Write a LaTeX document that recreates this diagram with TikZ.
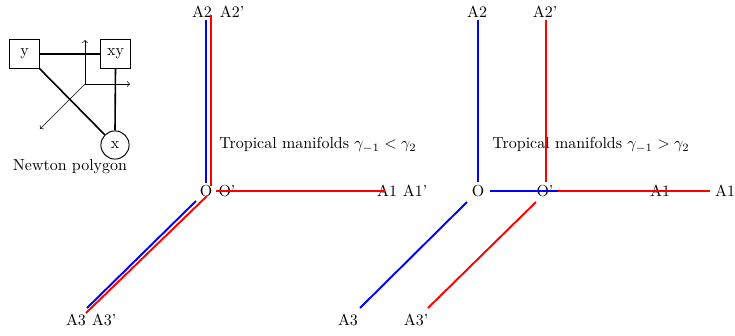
\documentclass[tikz,border=0pt]{standalone}
\begin{document}
\begin{tikzpicture}[x=0.022cm,y=-0.022cm,
  lbl/.style={inner sep=1pt},
  bl/.style={blue,line width=1.2pt},
  rd/.style={red,line width=1.2pt},
  pedge/.style={line width=1pt},
  sq/.style={draw,line width=0.6pt,inner sep=0pt,minimum width=0.64cm,minimum height=0.62cm},
  circ/.style={draw,line width=0.6pt,circle,inner sep=0pt,minimum size=0.62cm}]
\useasboundingbox (0,0) rectangle (735,335);

% Newton polygon
\node[sq] (ny) at (24.5,54) {y};
\node[sq] (nxy) at (115.5,54) {xy};
\node[circ] (nx) at (115,145) {x};
\coordinate (ao) at (85,84);
\coordinate (aup) at (85,40);
\coordinate (art) at (130,84);
\coordinate (adl) at (40,129);
\draw[->] (ao) -- (aup);
\draw[->] (ao) -- (art);
\draw[->] (ao) -- (adl);
\draw[pedge] (ny.east) -- (nxy.west);
\draw[pedge] (nxy.south) -- (nx.north);
\draw[pedge] (ny.south east) -- (nx.north west);
\node[lbl] (np) at (70,167) {Newton polygon};

% Left tropical picture
\node[lbl] (lO) at (206,191) {O};
\node[lbl] (lOp) at (227,191) {O'};
\node[lbl] (lA1) at (387,191) {A1};
\node[lbl] (lA1p) at (415,191) {A1'};
\node[lbl] (lA2) at (202,12) {A2};
\node[lbl] (lA2p) at (232,12) {A2'};
\node[lbl] (lA3) at (76,320) {A3};
\node[lbl] (lA3p) at (104,320) {A3'};
\node[lbl] (lt) at (318,145) {Tropical manifolds $\gamma_{-1}<\gamma_2$};

\coordinate (lb1) at (206,20);
\coordinate (lb2) at (206,183);
\coordinate (lb3) at (196,201);
\coordinate (lb4) at (87,308);
\coordinate (lr1) at (211,15);
\coordinate (lr2) at (211,186);
\coordinate (lr3) at (207,196);
\coordinate (lr4) at (86,313);
\coordinate (lr5) at (216,191);
\coordinate (lr6) at (385,191);
\draw[bl] (lb1) -- (lb2);
\draw[bl] (lb3) -- (lb4);
\draw[rd] (lr1) -- (lr2);
\draw[rd] (lr3) -- (lr4);
\draw[rd] (lr5) -- (lr6);

% Right tropical picture
\node[lbl] (rO) at (478,191) {O};
\node[lbl] (rOp) at (545,191) {O'};
\node[lbl] (rA1) at (660,191) {A1};
\node[lbl] (rA1b) at (725,191) {A1};
\node[lbl] (rA2) at (477,12) {A2};
\node[lbl] (rA2p) at (545,12) {A2'};
\node[lbl] (rA3) at (348,320) {A3};
\node[lbl] (rA3p) at (416,320) {A3'};
\node[lbl] (rt) at (591,145) {Tropical manifolds $\gamma_{-1}>\gamma_2$};

\coordinate (rb1) at (478,20);
\coordinate (rb2) at (478,182);
\coordinate (rb3) at (490,191);
\coordinate (rb4) at (650,191);
\coordinate (rb5) at (467,202);
\coordinate (rb6) at (360,308);
\coordinate (rr1) at (546,20);
\coordinate (rr2) at (546,182);
\coordinate (rr3) at (558,191);
\coordinate (rr4) at (710,191);
\coordinate (rr5) at (536,202);
\coordinate (rr6) at (428,308);
\draw[bl] (rb1) -- (rb2);
\draw[bl] (rb3) -- (rb4);
\draw[bl] (rb5) -- (rb6);
\draw[rd] (rr1) -- (rr2);
\draw[rd] (rr3) -- (rr4);
\draw[rd] (rr5) -- (rr6);
\end{tikzpicture}
\end{document}
